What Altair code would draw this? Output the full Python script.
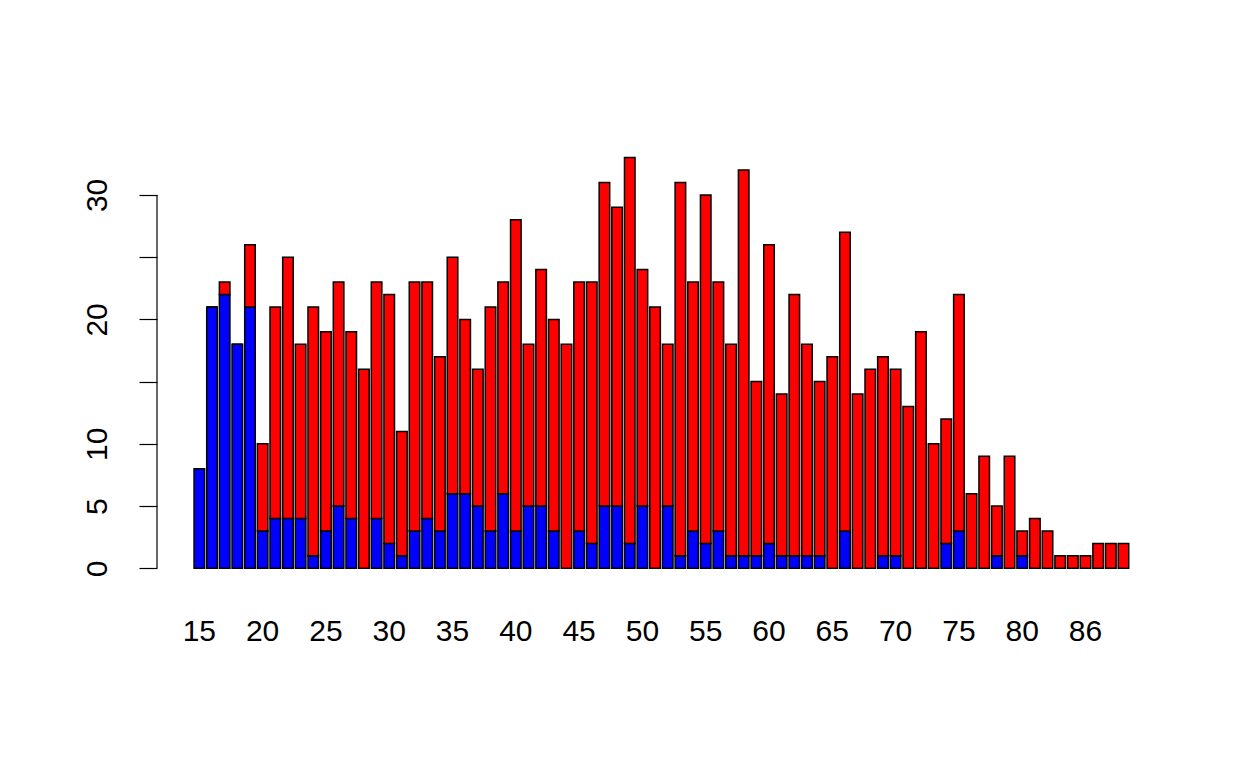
import altair as alt
import pandas as pd

ages = [str(a) for a in list(range(15, 85)) + [86, 87, 88, 89]]
blue = [8, 21, 22, 18, 21, 3, 4, 4, 4, 1,
        3, 5, 4, 0, 4, 2, 1, 3, 4, 3,
        6, 6, 5, 3, 6, 3, 5, 5, 3, 0,
        3, 2, 5, 5, 2, 5, 0, 5, 1, 3,
        2, 3, 1, 1, 1, 2, 1, 1, 1, 1,
        0, 3, 0, 0, 1, 1, 0, 0, 0, 2,
        3, 0, 0, 1, 0, 1, 0, 0, 0, 0,
        0, 0, 0, 0]
red = [0, 0, 1, 0, 5, 7, 17, 21, 14, 20,
       16, 18, 15, 16, 19, 20, 10, 20, 19, 14,
       19, 14, 11, 18, 17, 25, 13, 19, 17, 18,
       20, 21, 26, 24, 31, 19, 21, 13, 30, 20,
       28, 20, 17, 31, 14, 24, 13, 21, 17, 14,
       17, 24, 14, 16, 16, 15, 13, 19, 10, 10,
       19, 6, 9, 4, 9, 2, 4, 3, 1, 1,
       1, 2, 2, 2]
x_labels = ["15", "20", "25", "30", "35", "40", "45", "50", "55",
            "60", "65", "70", "75", "80", "86"]
y_ticks = [0, 5, 10, 15, 20, 25, 30]

rows = []
for a, b, r in zip(ages, blue, red):
    rows.append({"age": a, "group": "blue", "ord": 0, "n": b})
    rows.append({"age": a, "group": "red", "ord": 1, "n": r})
df = pd.DataFrame(rows)

FONT = "Liberation Sans"
FS = 30

ysc = alt.Scale(domain=[-1.663, 34.333], nice=False, zero=False)

bars = alt.Chart(df).mark_bar(stroke="black", strokeWidth=1.5).encode(
    x=alt.X("age:O", sort=ages,
            scale=alt.Scale(paddingInner=0.1667, paddingOuter=0.0833, range=[36, 972.8]),
            axis=alt.Axis(values=x_labels, labelAngle=0, ticks=False, domain=False,
                          labelPadding=27, labelFontSize=FS, labelFont=FONT,
                          labelColor="black", title=None, labelOverlap=False)),
    y=alt.Y("n:Q", stack="zero", scale=ysc,
            axis=alt.Axis(values=y_ticks,
                          labelExpr="datum.value == 15 || datum.value == 25 ? '' : datum.label",
                          domain=False, tickSize=18, tickColor="black", tickWidth=1.2,
                          labelAngle=270, labelAlign="center", labelBaseline="bottom",
                          labelPadding=27, labelFontSize=FS, labelFont=FONT,
                          labelColor="black", grid=False, title=None, labelOverlap=False)),
    color=alt.Color("group:N", scale=alt.Scale(domain=["blue", "red"],
                                               range=["#0000FF", "#FF0000"]), legend=None),
    order=alt.Order("ord:Q"),
)

axis_line = alt.Chart(pd.DataFrame({"y": [0], "y2": [30]})).mark_rule(
    color="black", strokeWidth=1.2).encode(
    y=alt.Y("y:Q", scale=ysc), y2="y2:Q", x=alt.value(0))

chart = alt.layer(bars, axis_line).properties(
    width=1009, height=448,
    autosize=alt.AutoSizeParams(type="none"),
    padding={"left": 149, "top": 133, "right": 60, "bottom": 150},
    background="white",
).configure_view(stroke=None)

chart.save("out.html", embed_options={"renderer": "svg", "actions": False})
